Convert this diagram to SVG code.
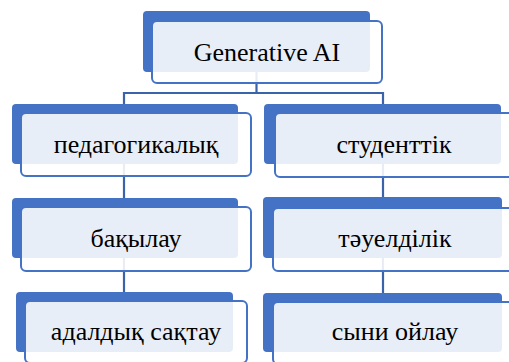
<svg xmlns="http://www.w3.org/2000/svg" width="509" height="362" viewBox="0 0 509 362">
<style>
.back{fill:#4472C4;}
.front{fill:#FFFFFF;fill-opacity:0.88;stroke:#4472C4;stroke-width:2;}
.lbl{font-family:"Liberation Serif","DejaVu Serif",serif;font-size:26px;fill:#000;text-anchor:middle;}
.conn{fill:none;stroke:#3B63AA;stroke-width:2.2;}
</style>
<rect width="509" height="362" fill="#FFFFFF"/>
<g id="connectors">
<path class="conn" d="M256.5,72 V93 M124,93 H383 M124,92 V300 M383,92 V300"/>
</g>
<g id="node-generative-ai">
<rect class="back" x="143" y="11" width="227" height="61" rx="4"/>
<rect class="front" x="152" y="21" width="230" height="62" rx="5"/>
<text class="lbl" x="267" y="61">Generative AI</text>
</g>
<g id="node-pedagogikalyk">
<rect class="back" x="12" y="104" width="226" height="60" rx="4"/>
<rect class="front" x="21" y="113" width="230" height="63" rx="5"/>
<text class="lbl" x="136" y="153">педагогикалық</text>
</g>
<g id="node-studenttik">
<rect class="back" x="264" y="104" width="237" height="60" rx="4"/>
<rect class="front" x="275" y="113" width="240" height="64" rx="5"/>
<text class="lbl" x="394" y="153">студенттік</text>
</g>
<g id="node-bakylau">
<rect class="back" x="12" y="198" width="226" height="60" rx="4"/>
<rect class="front" x="21" y="207" width="230" height="64" rx="5"/>
<text class="lbl" x="136" y="247">бақылау</text>
</g>
<g id="node-tauweldilik">
<rect class="back" x="263" y="197" width="239" height="61" rx="4"/>
<rect class="front" x="273" y="208" width="240" height="63" rx="5"/>
<text class="lbl" x="395" y="247">тәуелділік</text>
</g>
<g id="node-adaldyk-saktau">
<rect class="back" x="16" y="292" width="217" height="60" rx="4"/>
<rect class="front" x="25" y="301" width="222" height="62" rx="5"/>
<text class="lbl" x="136" y="340">адалдық сақтау</text>
</g>
<g id="node-syni-oilau">
<rect class="back" x="263" y="293" width="239" height="59" rx="4"/>
<rect class="front" x="273" y="302" width="240" height="62" rx="5"/>
<text class="lbl" x="395" y="340">сыни ойлау</text>
</g>
</svg>
